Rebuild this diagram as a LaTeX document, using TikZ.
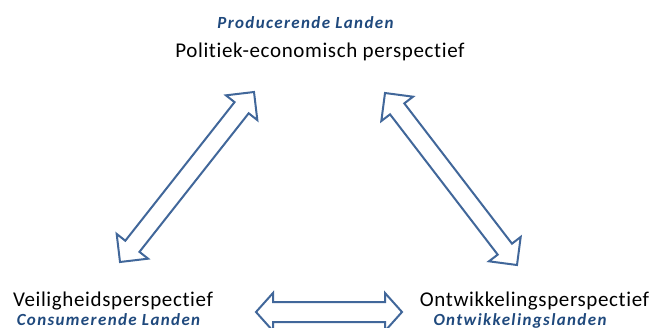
\documentclass[tikz,border=0pt]{standalone}
\usepackage{fontspec}
\setmainfont[Ligatures=NoCommon]{Carlito}
\usetikzlibrary{calc}
\definecolor{arrowblue}{HTML}{41679A}
\definecolor{labelblue}{HTML}{1F497D}
\tikzset{
  title/.style={font=\fontsize{21}{23}\selectfont\addfontfeature{LetterSpace=3}, text=black, anchor=base, inner sep=0pt},
  sublabel/.style={font=\fontsize{17}{19}\selectfont\bfseries\itshape\addfontfeature{LetterSpace=8}, text=labelblue, anchor=base, inner sep=0pt},
  dblarrow/.style={draw=arrowblue, line width=2pt, fill=white, line join=miter},
}
% #1,#2 tip names; #3 head length; #4 head half width; #5 shaft half width
\newcommand\mydblarrow[5]{%
  \coordinate (hA) at ($(#1)!#3!(#2)$);
  \coordinate (hB) at ($(#2)!#3!(#1)$);
  \path[dblarrow] (#1)
    -- ($(hA)!#4!90:(#2)$) -- ($(hA)!#5!90:(#2)$)
    -- ($(hB)!#5!-90:(#1)$) -- ($(hB)!#4!-90:(#1)$)
    -- (#2)
    -- ($(hB)!#4!90:(#1)$) -- ($(hB)!#5!90:(#1)$)
    -- ($(hA)!#5!-90:(#2)$) -- ($(hA)!#4!-90:(#2)$)
    -- cycle;
}
\begin{document}
\begin{tikzpicture}[x=1pt,y=-1pt]
\useasboundingbox (0,0) rectangle (655,327);
\clip (0,0) rectangle (655,327);
% texts
\node[sublabel] (prod) at (305.5,28) {Producerende Landen};
\node[title] (pol) at (320,57.5) {Politiek-economisch perspectief};
\node[title] (veil) at (113,306) {Veiligheidsperspectief};
\node[sublabel] (cons) at (108.5,325.5) {Consumerende Landen};
\node[title] (ontw) at (534.5,306) {Ontwikkelingsperspectief};
\node[sublabel] (ol) at (520,325.5) {Ontwikkelingslanden};
% arrow tips
\coordinate (L1) at (120,262);
\coordinate (L2) at (254,92);
\coordinate (R1) at (385,93);
\coordinate (R2) at (517,265);
\coordinate (B1) at (256,312);
\coordinate (B2) at (402,312);
\mydblarrow{L1}{L2}{20pt}{20pt}{9pt}
\mydblarrow{R1}{R2}{20pt}{20pt}{9pt}
\mydblarrow{B1}{B2}{17pt}{19pt}{10pt}
\end{tikzpicture}
\end{document}
